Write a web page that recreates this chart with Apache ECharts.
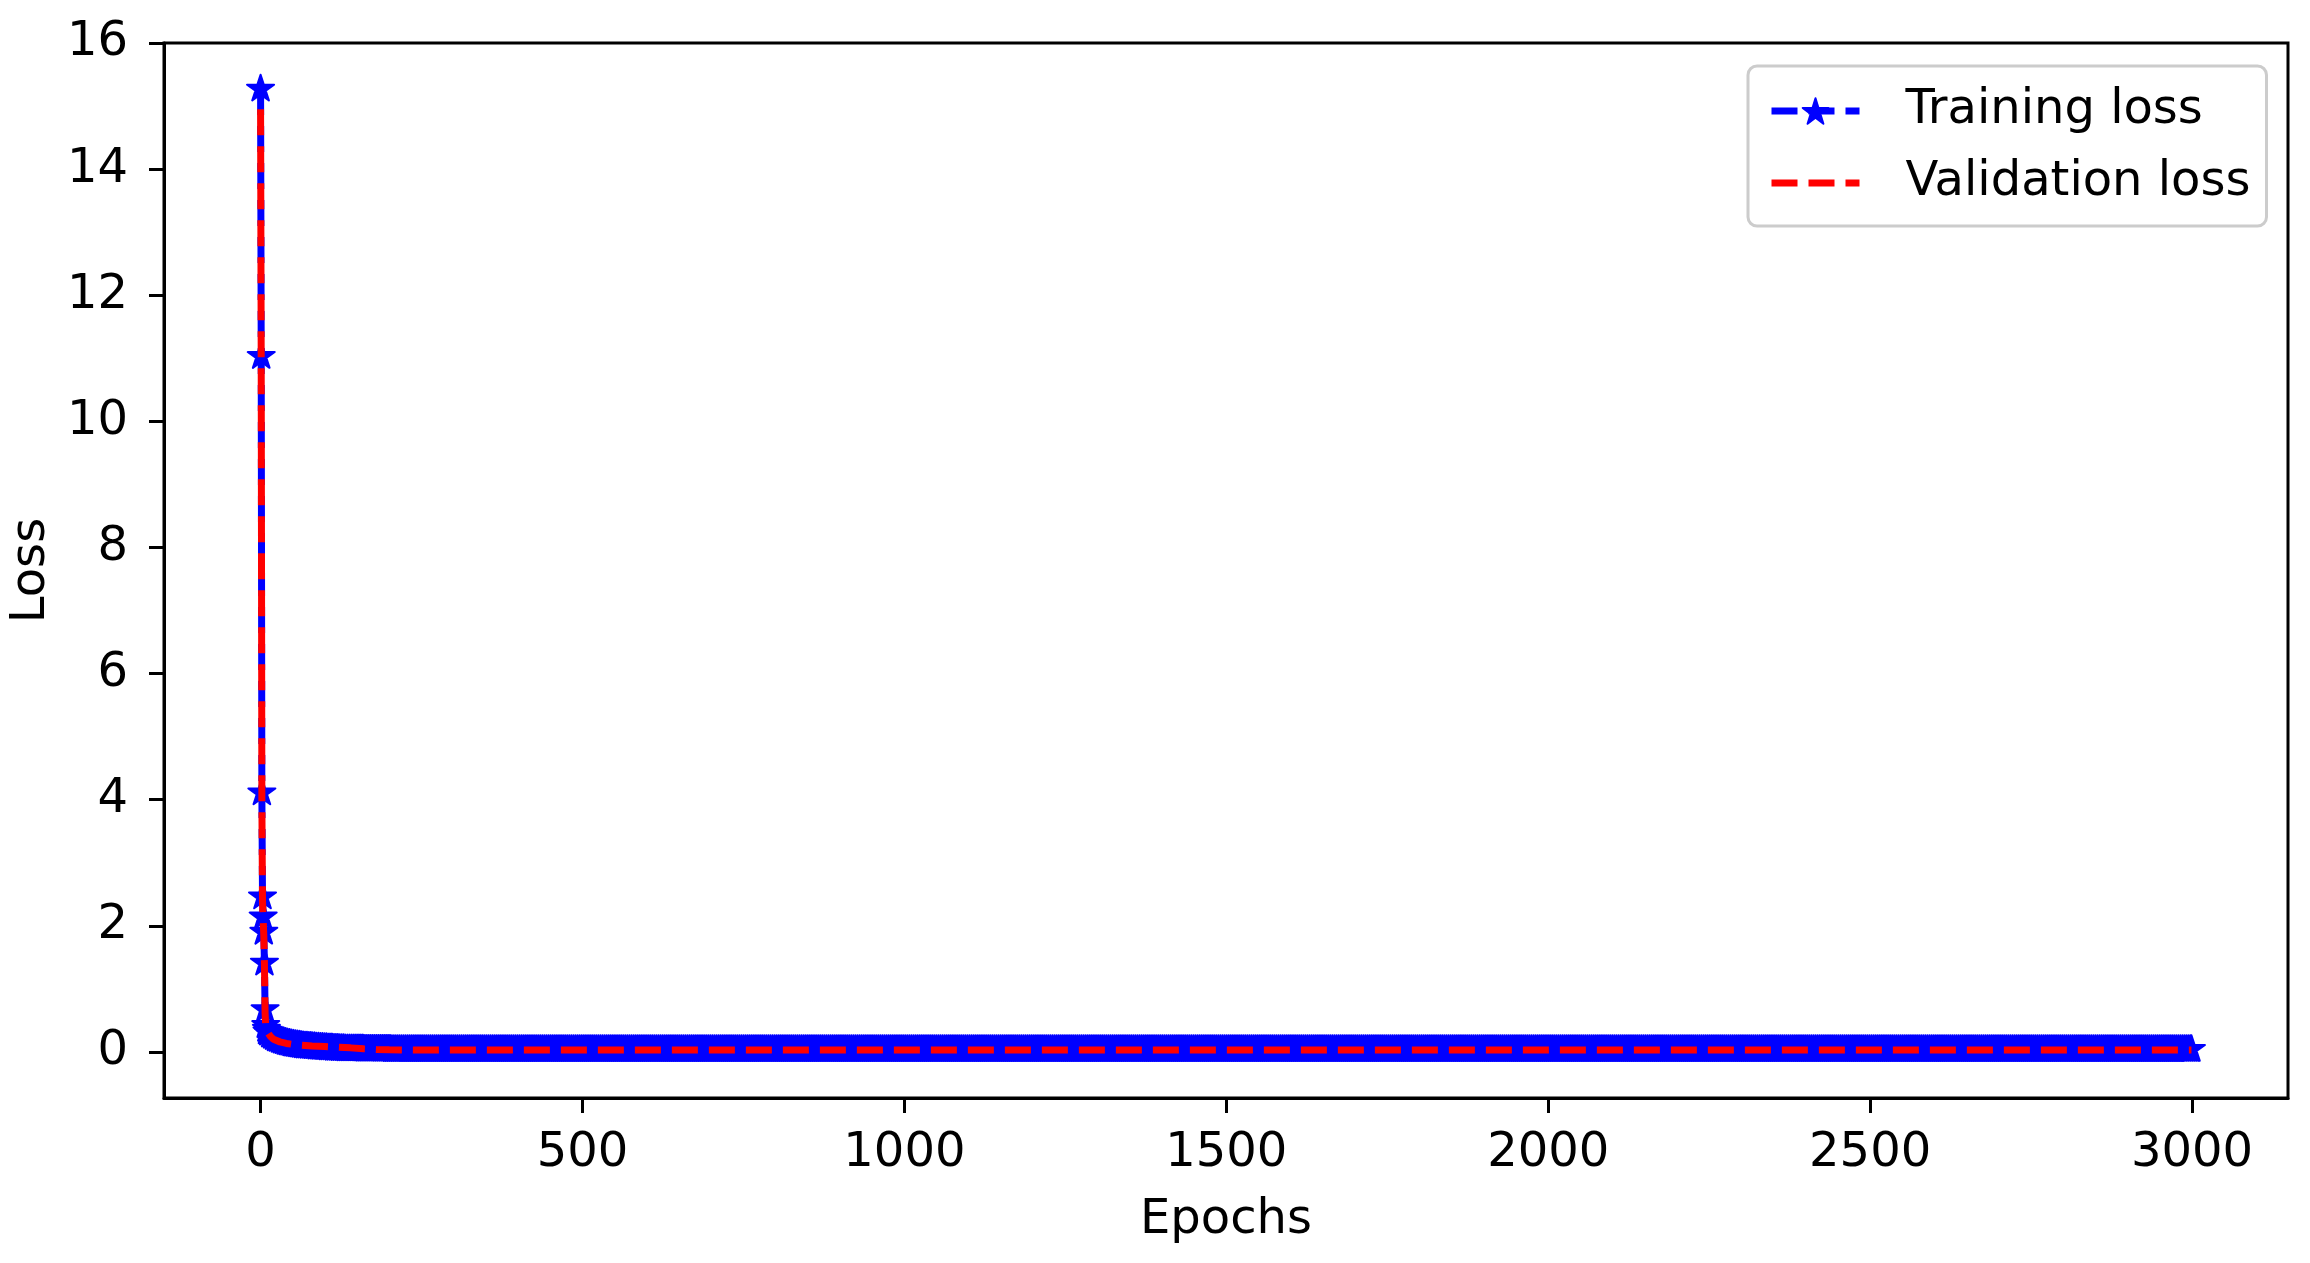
<!DOCTYPE html>
<html>
<head>
<meta charset="utf-8">
<title>Loss</title>
<script src="https://cdn.jsdelivr.net/npm/echarts@6/dist/echarts.min.js"></script>
<style>
  html, body { margin: 0; padding: 0; background: #fff; }
  #chart { width: 2310px; height: 1263px; }
</style>
</head>
<body>
<div id="chart"></div>
<script>
// 刻度
const xTicks = [0, 500, 1000, 1500, 2000, 2500, 3000]
const yTicks = [0, 2, 4, 6, 8, 10, 12, 14, 16]

// 训练损失: epoch 0-10 逐个读出
const trainHead = [15.27, 11.03, 4.11, 2.46, 2.14, 1.90, 1.41, 0.67, 0.42, 0.36, 0.32]
// epoch 12 起每 3 个 epoch 一个读数 (12, 15, ..., 129)
const trainEarly = [
    0.30, 0.27, 0.25, 0.23, 0.21, 0.20, 0.185, 0.175, 0.165, 0.155,
    0.145, 0.14, 0.13, 0.125, 0.12, 0.115, 0.11, 0.105, 0.10, 0.095,
    0.095, 0.09, 0.09, 0.085, 0.085, 0.08, 0.08, 0.075, 0.075, 0.07,
    0.07, 0.065, 0.065, 0.065, 0.06, 0.06, 0.06, 0.055, 0.055, 0.055
]
// epoch 132 ... 2997, 每 3 个 epoch 一个读数, 基本是平的
const trainTail = [
    0.05,0.05,0.05,0.05,0.05,0.05,0.05,0.05,0.05,0.05,0.045,0.045,0.045,0.045,0.045,0.045,0.045,0.045,0.045,0.045,0.045,0.045,0.045,0.045,
    0.04,0.04,0.04,0.04,0.04, 0.04,0.04,0.04,0.04,0.04, 0.04,0.04,0.04,0.04,0.04, 0.04,0.04,0.04,0.04,0.04, 0.04,0.04,0.04,0.04,0.04,
    0.04,0.04,0.04,0.04,0.04, 0.04,0.04,0.04,0.04,0.04, 0.04,0.04,0.04,0.04,0.04, 0.04,0.04,0.04,0.04,0.04, 0.04,0.04,0.04,0.04,0.04,
    0.04,0.04,0.04,0.04,0.04, 0.04,0.04,0.04,0.04,0.04, 0.04,0.04,0.04,0.04,0.04, 0.04,0.04,0.04,0.04,0.04, 0.04,0.04,0.04,0.04,0.04,
    0.04,0.04,0.04,0.04,0.04, 0.04,0.04,0.04,0.04,0.04, 0.04,0.04,0.04,0.04,0.04, 0.04,0.04,0.04,0.04,0.04, 0.04,0.04,0.04,0.04,0.04,
    0.04,0.04,0.04,0.04,0.04, 0.04,0.04,0.04,0.04,0.04, 0.04,0.04,0.04,0.04,0.04, 0.04,0.04,0.04,0.04,0.04, 0.04,0.04,0.04,0.04,0.04,
    0.04,0.04,0.04,0.04,0.04, 0.04,0.04,0.04,0.04,0.04, 0.04,0.04,0.04,0.04,0.04, 0.04,0.04,0.04,0.04,0.04, 0.04,0.04,0.04,0.04,0.04,
    0.04,0.04,0.04,0.04,0.04, 0.04,0.04,0.04,0.04,0.04, 0.04,0.04,0.04,0.04,0.04, 0.04,0.04,0.04,0.04,0.04, 0.04,0.04,0.04,0.04,0.04,
    0.04,0.04,0.04,0.04,0.04, 0.04,0.04,0.04,0.04,0.04, 0.04,0.04,0.04,0.04,0.04, 0.04,0.04,0.04,0.04,0.04, 0.04,0.04,0.04,0.04,0.04,
    0.04,0.04,0.04,0.04,0.04, 0.04,0.04,0.04,0.04,0.04, 0.04,0.04,0.04,0.04,0.04, 0.04,0.04,0.04,0.04,0.04, 0.04,0.04,0.04,0.04,0.04,
    0.04,0.04,0.04,0.04,0.04, 0.04,0.04,0.04,0.04,0.04, 0.04,0.04,0.04,0.04,0.04, 0.04,0.04,0.04,0.04,0.04, 0.04,0.04,0.04,0.04,0.04,
    0.04,0.04,0.04,0.04,0.04, 0.04,0.04,0.04,0.04,0.04, 0.04,0.04,0.04,0.04,0.04, 0.04,0.04,0.04,0.04,0.04, 0.04,0.04,0.04,0.04,0.04,
    0.04,0.04,0.04,0.04,0.04, 0.04,0.04,0.04,0.04,0.04, 0.04,0.04,0.04,0.04,0.04, 0.04,0.04,0.04,0.04,0.04, 0.04,0.04,0.04,0.04,0.04,
    0.04,0.04,0.04,0.04,0.04, 0.04,0.04,0.04,0.04,0.04, 0.04,0.04,0.04,0.04,0.04, 0.04,0.04,0.04,0.04,0.04, 0.04,0.04,0.04,0.04,0.04,
    0.04,0.04,0.04,0.04,0.04, 0.04,0.04,0.04,0.04,0.04, 0.04,0.04,0.04,0.04,0.04, 0.04,0.04,0.04,0.04,0.04, 0.04,0.04,0.04,0.04,0.04,
    0.04,0.04,0.04,0.04,0.04, 0.04,0.04,0.04,0.04,0.04, 0.04,0.04,0.04,0.04,0.04, 0.04,0.04,0.04,0.04,0.04, 0.04,0.04,0.04,0.04,0.04,
    0.04,0.04,0.04,0.04,0.04, 0.04,0.04,0.04,0.04,0.04, 0.04,0.04,0.04,0.04,0.04, 0.04,0.04,0.04,0.04,0.04, 0.04,0.04,0.04,0.04,0.04,
    0.04,0.04,0.04,0.04,0.04, 0.04,0.04,0.04,0.04,0.04, 0.04,0.04,0.04,0.04,0.04, 0.04,0.04,0.04,0.04,0.04, 0.04,0.04,0.04,0.04,0.04,
    0.04,0.04,0.04,0.04,0.04, 0.04,0.04,0.04,0.04,0.04, 0.04,0.04,0.04,0.04,0.04, 0.04,0.04,0.04,0.04,0.04, 0.04,0.04,0.04,0.04,0.04,
    0.04,0.04,0.04,0.04,0.04, 0.04,0.04,0.04,0.04,0.04, 0.04,0.04,0.04,0.04,0.04, 0.04,0.04,0.04,0.04,0.04, 0.04,0.04,0.04,0.04,0.04,
    0.04,0.04,0.04,0.04,0.04, 0.04,0.04,0.04,0.04,0.04, 0.04,0.04,0.04,0.04,0.04, 0.04,0.04,0.04,0.04,0.04, 0.04,0.04,0.04,0.04,0.04,
    0.04,0.04,0.04,0.04,0.04, 0.04,0.04,0.04,0.04,0.04, 0.04,0.04,0.04,0.04,0.04, 0.04,0.04,0.04,0.04,0.04, 0.04,0.04,0.04,0.04,0.04,
    0.04,0.04,0.04,0.04,0.04, 0.04,0.04,0.04,0.04,0.04, 0.04,0.04,0.04,0.04,0.04, 0.04,0.04,0.04,0.04,0.04, 0.04,0.04,0.04,0.04,0.04,
    0.04,0.04,0.04,0.04,0.04, 0.04,0.04,0.04,0.04,0.04, 0.04,0.04,0.04,0.04,0.04, 0.04,0.04,0.04,0.04,0.04, 0.04,0.04,0.04,0.04,0.04,
    0.04,0.04,0.04,0.04,0.04, 0.04,0.04,0.04,0.04,0.04, 0.04,0.04,0.04,0.04,0.04, 0.04,0.04,0.04,0.04,0.04, 0.04,0.04,0.04,0.04,0.04,
    0.04,0.04,0.04,0.04,0.04, 0.04,0.04,0.04,0.04,0.04, 0.04,0.04,0.04,0.04,0.04, 0.04,0.04,0.04,0.04,0.04, 0.04,0.04,0.04,0.04,0.04,
    0.04,0.04,0.04,0.04,0.04, 0.04,0.04,0.04,0.04,0.04, 0.04,0.04,0.04,0.04,0.04, 0.04,0.04,0.04,0.04,0.04, 0.04,0.04,0.04,0.04,0.04,
    0.04,0.04,0.04,0.04,0.04, 0.04,0.04,0.04,0.04,0.04, 0.04,0.04,0.04,0.04,0.04, 0.04,0.04,0.04,0.04,0.04, 0.04,0.04,0.04,0.04,0.04,
    0.04,0.04,0.04,0.04,0.04, 0.04,0.04,0.04,0.04,0.04, 0.04,0.04,0.04,0.04,0.04, 0.04,0.04,0.04,0.04,0.04, 0.04,0.04,0.04,0.04,0.04,
    0.04,0.04,0.04,0.04,0.04, 0.04,0.04,0.04,0.04,0.04, 0.04,0.04,0.04,0.04,0.04, 0.04,0.04,0.04,0.04,0.04, 0.04,0.04,0.04,0.04,0.04,
    0.04,0.04,0.04,0.04,0.04, 0.04,0.04,0.04,0.04,0.04, 0.04,0.04,0.04,0.04,0.04, 0.04,0.04,0.04,0.04,0.04, 0.04,0.04,0.04,0.04,0.04,
    0.04,0.04,0.04,0.04,0.04, 0.04,0.04,0.04,0.04,0.04, 0.04,0.04,0.04,0.04,0.04, 0.04,0.04,0.04,0.04,0.04, 0.04,0.04,0.04,0.04,0.04,
    0.04,0.04,0.04,0.04,0.04, 0.04,0.04,0.04,0.04,0.04, 0.04,0.04,0.04,0.04,0.04, 0.04,0.04,0.04,0.04,0.04, 0.04,0.04,0.04,0.04,0.04,
    0.04,0.04,0.04,0.04,0.04, 0.04,0.04,0.04,0.04,0.04, 0.04,0.04,0.04,0.04,0.04, 0.04,0.04,0.04,0.04,0.04, 0.04,0.04,0.04,0.04,0.04,
    0.04,0.04,0.04,0.04,0.04, 0.04,0.04,0.04,0.04,0.04, 0.04,0.04,0.04,0.04,0.04, 0.04,0.04,0.04,0.04,0.04, 0.04,0.04,0.04,0.04,0.04,
    0.04,0.04,0.04,0.04,0.04, 0.04,0.04,0.04,0.04,0.04, 0.04,0.04,0.04,0.04,0.04, 0.04,0.04,0.04,0.04,0.04, 0.04,0.04,0.04,0.04,0.04,
    0.04,0.04,0.04,0.04,0.04, 0.04,0.04,0.04,0.04,0.04, 0.04,0.04,0.04,0.04,0.04, 0.04,0.04,0.04,0.04,0.04, 0.04,0.04,0.04,0.04,0.04,
    0.04,0.04,0.04,0.04,0.04, 0.04,0.04,0.04,0.04,0.04, 0.04,0.04,0.04,0.04,0.04, 0.04,0.04,0.04,0.04,0.04, 0.04,0.04,0.04,0.04,0.04,
    0.04,0.04,0.04,0.04,0.04, 0.04,0.04
]
const trainLast = 0.04 // epoch 2999

// 验证损失 (没有标记, 读数稀疏一些)
const valEpochs = [0, 1, 2, 3, 4, 5, 6, 7, 8, 10, 15, 20, 30, 40, 50, 60, 80, 100, 120, 140, 160, 180, 200, 250,
    300, 400, 500, 600, 700, 800, 900, 1000, 1100, 1200, 1300, 1400, 1500, 1600, 1700, 1800, 1900,
    2000, 2100, 2200, 2300, 2400, 2500, 2600, 2700, 2800, 2900, 2999]
const valLoss = [14.95, 10.9, 4.0, 2.4, 2.1, 1.85, 1.4, 0.62, 0.40, 0.33, 0.25, 0.20, 0.16, 0.135, 0.12, 0.11, 0.095, 0.085, 0.075, 0.065, 0.05, 0.04, 0.035, 0.03,
    0.03, 0.03, 0.03, 0.03, 0.03, 0.03, 0.03, 0.03, 0.03, 0.03, 0.03, 0.03, 0.03, 0.03, 0.03, 0.03, 0.03,
    0.03, 0.03, 0.03, 0.03, 0.03, 0.03, 0.03, 0.03, 0.03, 0.03, 0.03]

// matplotlib 的 '*' 标记
const STAR = 'path://M0,-100L22.45,-30.9L95.1,-30.9L36.33,11.8L58.8,80.9L0,38.2L-58.8,80.9L-36.33,11.8L-95.1,-30.9L-22.45,-30.9Z'
const FONT = 'DejaVu Sans'

const trainLoss = [...trainHead, ...trainEarly, ...trainTail, trainLast]
const trainEpochs = []
trainHead.forEach((v, i) => trainEpochs.push(i))
for (let i = 0; i < trainEarly.length + trainTail.length; i++) trainEpochs.push(12 + 3 * i)
trainEpochs.push(2999)

const trainData = trainLoss.map((v, i) => [trainEpochs[i], v])
const valData = valLoss.map((v, i) => [valEpochs[i], v])

const chart = echarts.init(document.getElementById('chart'))

chart.setOption({
    animation: false,
    backgroundColor: '#fff',
    grid: {
        left: 164,
        right: 22,
        top: 43,
        bottom: 165,
        show: true,
        borderColor: '#000',
        borderWidth: 3,
        backgroundColor: 'transparent'
    },
    legend: {
        orient: 'vertical',
        left: 1748,
        top: 66,
        padding: [21, 16, 19, 20],
        itemWidth: 88,
        itemHeight: 32,
        itemGap: 24,
        backgroundColor: 'rgba(255,255,255,0.8)',
        borderColor: '#cccccc',
        borderWidth: 3,
        borderRadius: 9,
        lineStyle: { width: 7 },
        textStyle: {
            fontFamily: FONT,
            fontSize: 48,
            lineHeight: 48,
            color: '#000',
            padding: [0, 0, 0, 41]
        },
        data: [
            'Training loss',
            { name: 'Validation loss', itemStyle: { opacity: 0 } }
        ]
    },
    xAxis: {
        type: 'value',
        min: -150,
        max: 3149,
        name: 'Epochs',
        nameLocation: 'middle',
        nameGap: 99,
        nameTextStyle: { fontFamily: FONT, fontSize: 48, color: '#000' },
        axisLine: { show: true, onZero: false, lineStyle: { color: '#000', width: 3 } },
        axisTick: { show: true, length: 15, lineStyle: { color: '#000', width: 3 }, customValues: xTicks },
        axisLabel: {
            fontFamily: FONT, fontSize: 48, color: '#000', margin: 32,
            customValues: xTicks,
            formatter: v => String(v)
        },
        splitLine: { show: false }
    },
    yAxis: {
        type: 'value',
        min: -0.73,
        max: 16,
        name: 'Loss',
        nameLocation: 'middle',
        nameGap: 105,
        nameTextStyle: { fontFamily: FONT, fontSize: 48, color: '#000' },
        axisLine: { show: true, onZero: false, lineStyle: { color: '#000', width: 3 } },
        axisTick: { show: true, length: 15, lineStyle: { color: '#000', width: 3 }, customValues: yTicks },
        axisLabel: {
            fontFamily: FONT, fontSize: 48, color: '#000', margin: 36,
            customValues: yTicks,
            formatter: v => String(v)
        },
        splitLine: { show: false }
    },
    series: [
        {
            name: 'Training loss',
            type: 'line',
            data: trainData,
            z: 2,
            silent: true,
            symbol: STAR,
            symbolSize: [27, 25.7],
            symbolOffset: [0, -1.4],
            showSymbol: true,
            lineStyle: { color: '#0000ff', width: 7, type: [26, 11] },
            itemStyle: { color: '#0000ff', borderColor: '#0000ff', borderWidth: 2, borderJoin: 'round' },
            emphasis: { disabled: true }
        },
        {
            name: 'Validation loss',
            type: 'line',
            data: valData,
            z: 3,
            silent: true,
            symbol: 'none',
            lineStyle: { color: '#ff0000', width: 7, type: [26, 11] },
            itemStyle: { color: '#ff0000' },
            emphasis: { disabled: true }
        }
    ]
})
</script>
</body>
</html>
